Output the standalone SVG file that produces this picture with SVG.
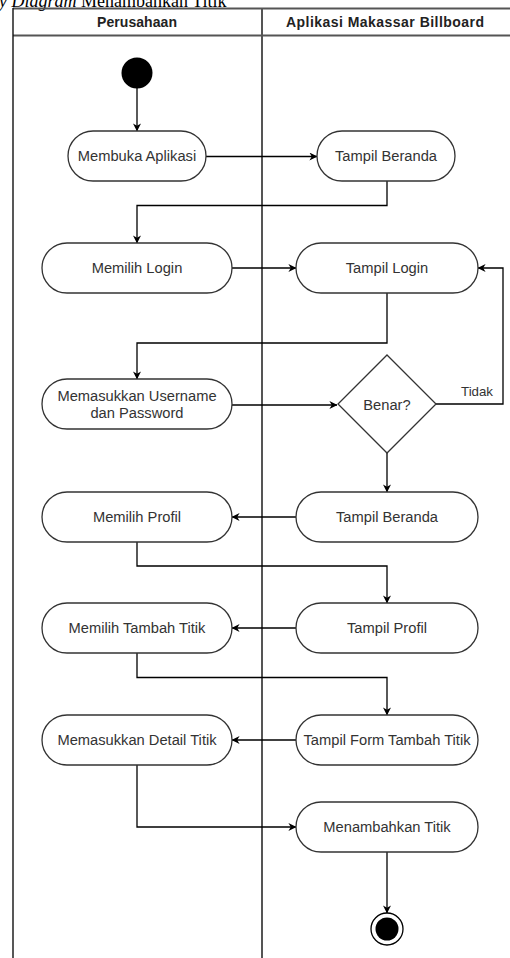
<svg xmlns="http://www.w3.org/2000/svg" width="510" height="958" viewBox="0 0 510 958">
  <style>
    .lane { fill: none; stroke: #555; stroke-width: 2; }
    .lane-edge { fill: none; stroke: #111; stroke-width: 1.4; }
    .head { font-family: "Liberation Sans", Arial, sans-serif; font-size: 14px; font-weight: bold; fill: #222; text-anchor: middle; }
    .act { fill: #fff; stroke: #333; stroke-width: 1.3; }
    .lbl { font-family: "Liberation Sans", Arial, sans-serif; font-size: 14.7px; fill: #333; text-anchor: middle; dominant-baseline: central; }
    .edge { fill: none; stroke: #000; stroke-width: 1.3; marker-end: url(#arrow); }
    .caption { font-family: "Liberation Serif", "Times New Roman", serif; font-size: 18px; fill: #000; }
  </style>
  <defs>
    <marker id="arrow" viewBox="0 0 10 10" refX="9.5" refY="5" markerWidth="8" markerHeight="8" markerUnits="userSpaceOnUse" orient="auto">
      <path d="M0,0 L10,5 L0,10 L3,5 z" fill="#000"/>
    </marker>
  </defs>

  <rect width="510" height="958" fill="#fff"/>

  <!-- caption above the diagram, running off the page edge -->
  <text class="caption" x="-48" y="7"><tspan font-style="italic">Activity Diagram</tspan> Menambahkan Titik</text>

  <!-- swimlanes -->
  <g id="lanes">
    <line class="lane" x1="13" y1="8.5" x2="512" y2="8.5"/>
    <line class="lane" x1="13" y1="35.5" x2="512" y2="35.5"/>
    <line class="lane-edge" x1="13" y1="8" x2="13" y2="960"/>
    <line class="lane" x1="262" y1="8" x2="262" y2="960"/>
    <text class="head" x="137" y="27" textLength="80">Perusahaan</text>
    <text class="head" x="385" y="27" textLength="198">Aplikasi Makassar Billboard</text>
  </g>

  <!-- connectors -->
  <g id="connectors">
    <path class="edge" d="M137,88 V131"/>
    <path class="edge" d="M206,156.5 H317"/>
    <path class="edge" d="M387,181 V205.5 H137 V243"/>
    <path class="edge" d="M232,268 H296"/>
    <path class="edge" d="M387,293 V343 H137 V379"/>
    <path class="edge" d="M232,405 H337"/>
    <path class="edge" d="M436,404 H503 V268 H478"/>
    <text x="461" y="396" font-family="'Liberation Sans', Arial, sans-serif" font-size="13.3" fill="#333">Tidak</text>
    <path class="edge" d="M387,453 V492"/>
    <path class="edge" d="M296,517 H232"/>
    <path class="edge" d="M137,542 V566 H387 V603"/>
    <path class="edge" d="M296,628 H232"/>
    <path class="edge" d="M137,653 V677.5 H387 V715"/>
    <path class="edge" d="M296,740 H232"/>
    <path class="edge" d="M137,765 V827 H296"/>
    <path class="edge" d="M387,852 V913"/>
  </g>

  <!-- nodes -->
  <g id="start">
    <circle cx="137" cy="73" r="15.5" fill="#000"/>
  </g>
  <g id="membuka-aplikasi">
    <rect class="act" x="68" y="131" width="138" height="50" rx="25"/>
    <text class="lbl" x="137" y="156">Membuka Aplikasi</text>
  </g>
  <g id="tampil-beranda-1">
    <rect class="act" x="317" y="131" width="138" height="50" rx="25"/>
    <text class="lbl" x="386" y="156">Tampil Beranda</text>
  </g>
  <g id="memilih-login">
    <rect class="act" x="42" y="243" width="190" height="50" rx="25"/>
    <text class="lbl" x="137" y="268">Memilih Login</text>
  </g>
  <g id="tampil-login">
    <rect class="act" x="296" y="243" width="182" height="50" rx="25"/>
    <text class="lbl" x="387" y="268">Tampil Login</text>
  </g>
  <g id="memasukkan-username">
    <rect class="act" x="42" y="379" width="190" height="50" rx="25"/>
    <text class="lbl" x="137" y="396">Memasukkan Username</text>
    <text class="lbl" x="137" y="413">dan Password</text>
  </g>
  <g id="benar">
    <polygon class="act" points="387,355 436,404 387,453 338,404"/>
    <text class="lbl" x="387" y="405">Benar?</text>
  </g>
  <g id="tampil-beranda-2">
    <rect class="act" x="296" y="492" width="182" height="50" rx="25"/>
    <text class="lbl" x="387" y="517">Tampil Beranda</text>
  </g>
  <g id="memilih-profil">
    <rect class="act" x="42" y="492" width="190" height="50" rx="25"/>
    <text class="lbl" x="137" y="517">Memilih Profil</text>
  </g>
  <g id="tampil-profil">
    <rect class="act" x="296" y="603" width="182" height="50" rx="25"/>
    <text class="lbl" x="387" y="628">Tampil Profil</text>
  </g>
  <g id="memilih-tambah-titik">
    <rect class="act" x="42" y="603" width="190" height="50" rx="25"/>
    <text class="lbl" x="137" y="628">Memilih Tambah Titik</text>
  </g>
  <g id="tampil-form">
    <rect class="act" x="296" y="715" width="182" height="50" rx="25"/>
    <text class="lbl" x="387" y="740">Tampil Form Tambah Titik</text>
  </g>
  <g id="memasukkan-detail">
    <rect class="act" x="42" y="715" width="190" height="50" rx="25"/>
    <text class="lbl" x="137" y="740">Memasukkan Detail Titik</text>
  </g>
  <g id="menambahkan-titik">
    <rect class="act" x="296" y="802" width="182" height="50" rx="25"/>
    <text class="lbl" x="387" y="827">Menambahkan Titik</text>
  </g>
  <g id="end">
    <circle cx="387" cy="929" r="16" fill="#fff" stroke="#000" stroke-width="1.3"/>
    <circle cx="387" cy="929" r="11.5" fill="#000"/>
  </g>
</svg>
